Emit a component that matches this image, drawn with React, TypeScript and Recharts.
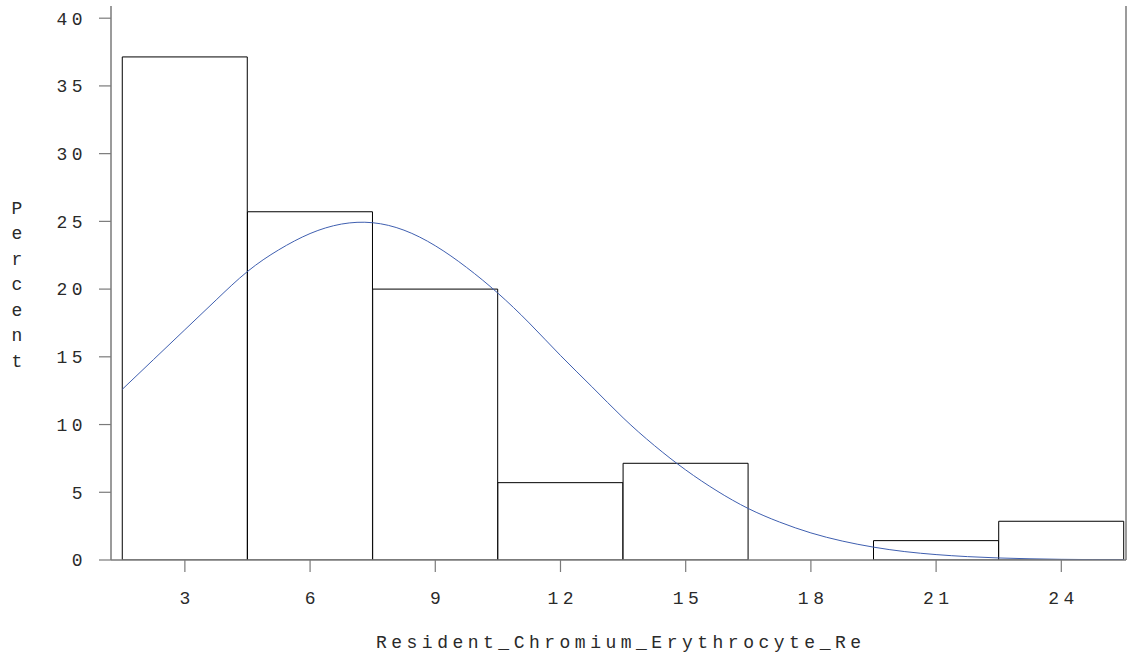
import { Bar, ComposedChart, Line, ReferenceLine, XAxis, YAxis } from "recharts";

// histogram bins (midpoints) and percent of observations in each
const BIN_CENTERS = [3, 6, 9, 12, 15, 18, 21, 24];
const PERCENTS = [37.14, 25.71, 20.0, 5.71, 7.14, 0, 1.43, 2.86];

// fitted normal curve
const CURVE_X = [
  1.5, 2.25, 3, 3.75, 4.5, 5.25, 6, 6.75, 7.5, 8.25, 9, 9.75, 10.5, 11.25, 12, 12.75, 13.5,
  14.25, 15, 15.75, 16.5, 17.25, 18, 18.75, 19.5, 20.25, 21, 21.75, 22.5, 23.25, 24, 24.75, 25.5,
];
const CURVE_Y = [
  12.6, 14.8, 17.0, 19.2, 21.3, 22.9, 24.1, 24.8, 24.9, 24.35, 23.2, 21.6, 19.7, 17.5, 15.1,
  12.8, 10.5, 8.45, 6.65, 5.1, 3.8, 2.8, 2.0, 1.4, 0.95, 0.62, 0.4, 0.25, 0.15, 0.09, 0.05,
  0.03, 0.02,
];

const Y_TICKS = [0, 5, 10, 15, 20, 25, 30, 35, 40];
const X_DOMAIN: [number, number] = [1.23, 25.55];
const Y_DOMAIN: [number, number] = [0, 40.9];

const WIDTH = 1135;
const HEIGHT = 664;
const MARGIN = { top: 6, right: 9, left: 0, bottom: 0 };
const Y_AXIS_W = 111;
const X_AXIS_H = 104;

const FONT = '"Courier New", "Liberation Mono", monospace';
const FONT_SIZE = 18;
const SPACING = 4.5;
const AXIS = "#7a7a7a";
const TEXT = "#2a2a2a";

const histData = BIN_CENTERS.map((x, i) => ({ x, pct: PERCENTS[i] }));
const curveData = CURVE_X.map((x, i) => ({ x, y: CURVE_Y[i] }));

const tickStyle = {
  fontFamily: FONT,
  fontSize: FONT_SIZE,
  fill: TEXT,
  letterSpacing: SPACING,
};

function XTitle({ viewBox }: any) {
  if (!viewBox) return null;
  return (
    <text
      x={viewBox.x + viewBox.width / 2 + SPACING / 2}
      y={viewBox.y + 88}
      textAnchor="middle"
      fontFamily={FONT}
      fontSize={FONT_SIZE}
      fill={TEXT}
      letterSpacing={SPACING}
    >
      Resident_Chromium_Erythrocyte_Re
    </text>
  );
}

function YTitle({ viewBox }: any) {
  if (!viewBox) return null;
  const letters = "Percent".split("");
  const step = 25.5;
  const cy = viewBox.y + viewBox.height / 2 + 2;
  const y0 = cy - ((letters.length - 1) * step) / 2;
  return (
    <text fontFamily={FONT} fontSize={FONT_SIZE} fill={TEXT} textAnchor="middle" dominantBaseline="central">
      {letters.map((ch, i) => (
        <tspan key={i} x={17} y={y0 + i * step}>
          {ch}
        </tspan>
      ))}
    </text>
  );
}

export default function App() {
  return (
    <div style={{ position: "absolute", left: 0, top: 0, background: "#fff" }}>
      <ComposedChart width={WIDTH} height={HEIGHT} data={histData} margin={MARGIN} barCategoryGap="0%" barGap={0}>
        <XAxis
          dataKey="x"
          type="number"
          domain={X_DOMAIN}
          allowDataOverflow
          ticks={BIN_CENTERS}
          interval={0}
          height={X_AXIS_H}
          tickSize={12}
          tickMargin={19}
          axisLine={{ stroke: AXIS, strokeWidth: 1.5 }}
          tickLine={{ stroke: AXIS, strokeWidth: 1.2 }}
          tick={{ ...tickStyle, dx: SPACING / 2 }}
          label={{ content: <XTitle /> }}
        />
        {/* separate hidden axis for the curve so its dense points don't shrink the bars */}
        <XAxis xAxisId="curve" dataKey="x" type="number" domain={X_DOMAIN} allowDataOverflow hide />
        <XAxis
          xAxisId="top"
          orientation="top"
          type="number"
          domain={X_DOMAIN}
          height={0}
          tick={false}
          tickLine={false}
          axisLine={{ stroke: AXIS, strokeWidth: 1.5 }}
        />
        <YAxis
          type="number"
          domain={Y_DOMAIN}
          allowDataOverflow
          ticks={Y_TICKS}
          interval={0}
          width={Y_AXIS_W}
          tickSize={12}
          tickMargin={12}
          axisLine={{ stroke: AXIS, strokeWidth: 1.5 }}
          tickLine={{ stroke: AXIS, strokeWidth: 1.2 }}
          tick={tickStyle}
          label={{ content: <YTitle /> }}
        />
        {/* right edge of the plot frame */}
        <ReferenceLine x={X_DOMAIN[1]} stroke={AXIS} strokeWidth={1.5} ifOverflow="extendDomain" />
        <Bar dataKey="pct" fill="#ffffff" stroke="#000000" strokeWidth={1} isAnimationActive={false} />
        <Line
          xAxisId="curve"
          data={curveData}
          dataKey="y"
          type="natural"
          dot={false}
          activeDot={false}
          stroke="#3f5fb0"
          strokeWidth={1}
          isAnimationActive={false}
        />
      </ComposedChart>
    </div>
  );
}
